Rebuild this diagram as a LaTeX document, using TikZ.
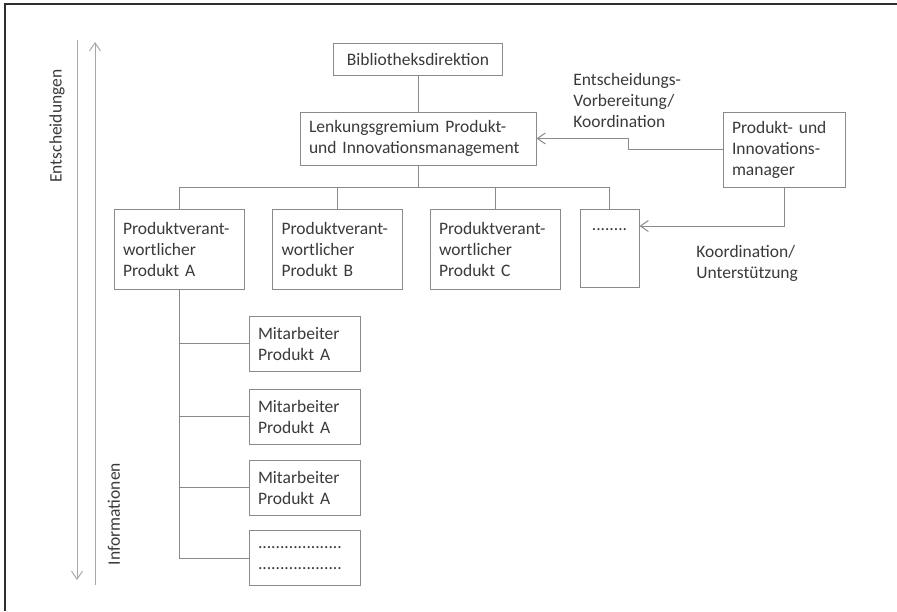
\documentclass[tikz,border=0pt]{standalone}
\usepackage{fontspec}
\setmainfont{Carlito}
\definecolor{rule}{HTML}{8A8A8A}
\definecolor{axis}{HTML}{A8A8A8}
\definecolor{ink}{HTML}{3A3A3A}
\definecolor{frame}{HTML}{2E2E2E}
\usetikzlibrary{arrows.meta, positioning}
\newcommand{\orgfont}{\fontsize{8.75}{10.5}\selectfont}
\tikzset{
  box/.style={draw=rule, fill=white, align=left, text=ink, font=\orgfont,
              inner xsep=4.5pt, inner ysep=0pt, line width=.5pt},
  link/.style={draw=rule, line width=.5pt},
  feed/.style={-{Straight Barb[length=4pt,width=5.5pt]}, draw=rule, line width=.5pt},
  note/.style={font=\orgfont, text=ink, align=left, inner sep=0pt},
}
\begin{document}
\begin{tikzpicture}[x=.5pt,y=-.5pt,
pv/.style={box,text width=56pt,minimum height=40pt},
ma/.style={box,text width=46.5pt,minimum height=27.5pt}]
\useasboundingbox (0,0) rectangle (897,611);
\draw[frame,line width=.8pt] (5,611)--(5,4)--(897,4);
\coordinate (dtop) at (77,40);\coordinate (dbot) at (77,580);
\coordinate (ubot) at (95,585);\coordinate (utop) at (95,42);
\draw[feed,draw=axis] (dtop)--(dbot);
\draw[feed,draw=axis] (ubot)--(utop);
\node[note,rotate=90] (ent) at (57,126) {Entscheidungen};
\node[note,rotate=90] (inf) at (114,514) {Informationen};
\node[box,align=center,minimum width=84.5pt,minimum height=16pt] (dir) at (418,59) {Bibliotheksdirektion};
\node[box,text width=109pt,minimum height=26.5pt] (lenk) at (418,138.5) {Lenkungsgremium Produkt-\\und Innovationsmanagement};
\node[box,text width=52pt,minimum height=37.5pt] (pim) at (784,149.5) {Produkt- und\\Innovations-\\manager};
\node[pv] (pvA) at (179,249) {Produktverant-\\wortlicher\\Produkt A};
\node[pv] (pvB) at (337.5,249) {Produktverant-\\wortlicher\\Produkt B};
\node[pv] (pvC) at (495,249) {Produktverant-\\wortlicher\\Produkt C};
\node[box,minimum width=29.5pt,minimum height=39pt] (pvD) at (609.5,248) {};
\node[note] (pvDdots) at ([yshift=-10.5pt]pvD.north) {........};
\node[ma] (ma1) at (304.5,343.5) {Mitarbeiter\\Produkt A};
\node[ma] (ma2) at (304.5,416.5) {Mitarbeiter\\Produkt A};
\node[ma] (ma3) at (304.5,487.5) {Mitarbeiter\\Produkt A};
\node[ma] (ma4) at (304.5,558) {...................\\...................};
\draw[link] (dir)--(lenk);
\coordinate (bus) at (418,187);
\draw[link] (lenk)--(bus);
\foreach \p in {pvA,pvB,pvC,pvD}
\draw[link] (bus)-|(\p);
\foreach \i in {1,...,4}
\draw[link] (pvA.south)|-(ma\i.west);
\draw[feed] (pim.west)--++(-94,0)|-(lenk.east);
\draw[feed] (pim.south)|-([yshift=11pt]pvD.east);
\node[note,anchor=west] (evk) at (573,100) {Entscheidungs-\\Vorbereitung/\\Koordination};
\node[note,anchor=west] (kou) at (696,263) {Koordination/\\Unterstützung};
\end{tikzpicture}
\end{document}
